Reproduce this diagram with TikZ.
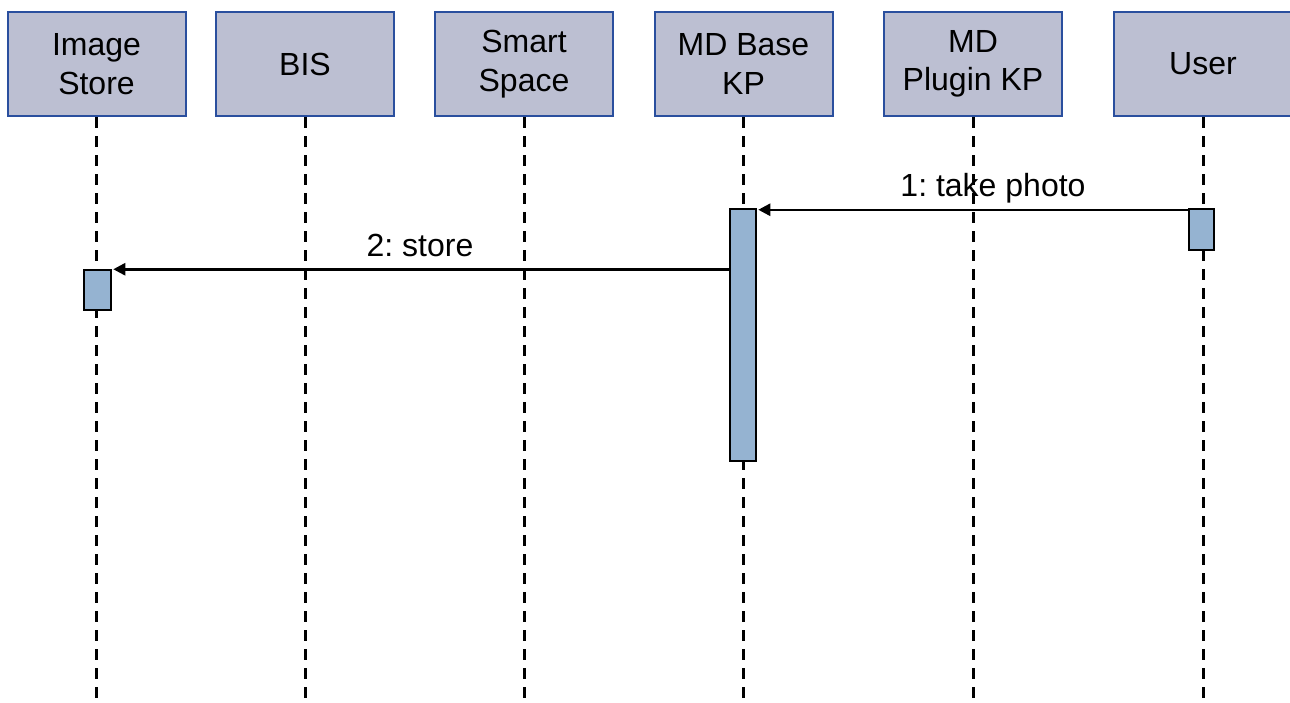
\documentclass[tikz,border=0pt]{standalone}
\usepackage{fontspec}
\setmainfont{Liberation Sans}
\frenchspacing
\usetikzlibrary{arrows.meta}
\definecolor{hdrfill}{HTML}{BCBFD2}
\definecolor{hdrline}{HTML}{2A4F9E}
\definecolor{actfill}{HTML}{95B3D1}
\tikzset{
  header/.style={draw=hdrline, fill=hdrfill, line width=2pt, minimum width=178pt,
    minimum height=104pt, inner sep=0pt, align=center,
    font=\fontsize{32}{38.4}\selectfont},
  lifeline/.style={line width=3pt, dash pattern=on 11pt off 8pt},
  actbox/.style={draw=black, fill=actfill, line width=1.5pt, inner sep=0pt},
  msg/.style={line width=2.5pt, -{Triangle[length=12pt,width=12pt]}, shorten >=1.5pt},
  lbl/.style={inner sep=0pt, anchor=base, font=\fontsize{32}{38.4}\selectfont}
}
\begin{document}
\begin{tikzpicture}[x=1pt,y=-1pt]
\useasboundingbox (0,0) rectangle (1290,702);
\coordinate (bottom) at (0,706);

% participants
\node[header] (img)    at (96.5,64)  {Image\\Store};
\node[header] (bis)    at (305,64)   {BIS};
\node[header] (space)  at (524,64)   {Smart\\Space};
\node[header] (base)   at (743.5,64) {MD Base\\KP};
\node[header] (plugin) at (973,64)   {MD\\Plugin KP};
\node[header] (user)   at (1203,64)  {User};

% message labels
\node[lbl] (l1) at (993,196.7) {1: take photo};
\node[lbl] (l2) at (420,256.7) {2: store};

% lifelines
\foreach \p in {img,bis,space,base,plugin,user}
  \draw[lifeline] (\p.south) -- (\p.south |- bottom);

% activations
\node[actbox, minimum width=26pt, minimum height=252pt] (baseact) at (743,335) {};
\node[actbox, minimum width=25pt, minimum height=41pt]  (useract) at (1201.5,229.5) {};
\node[actbox, minimum width=27pt, minimum height=40pt]  (imgact)  at (97.5,290) {};

% messages
\draw[msg] ([yshift=-1.5pt]useract.north west) -- ([yshift=-1.5pt]baseact.north east);
\draw[msg] (baseact.west |- imgact.north east) -- (imgact.north east);
\end{tikzpicture}
\end{document}
